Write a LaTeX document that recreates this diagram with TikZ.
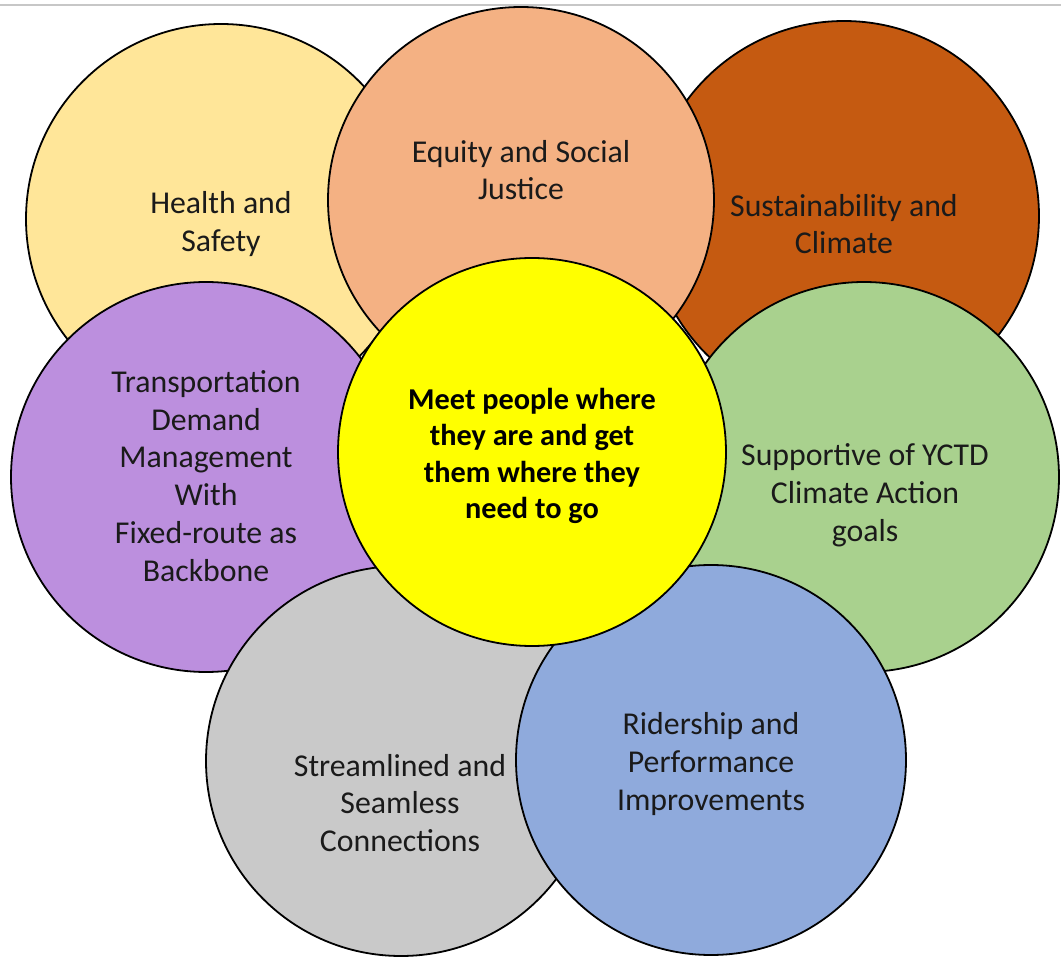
\documentclass[tikz,border=0pt]{standalone}
\usepackage{fontspec}
\setmainfont{Carlito}
\definecolor{chealth}{HTML}{FFE699}
\definecolor{cequity}{HTML}{F4B183}
\definecolor{csust}{HTML}{C55A11}
\definecolor{cpurple}{HTML}{BC8FDE}
\definecolor{cgreen}{HTML}{A9D18E}
\definecolor{cgray}{HTML}{C9C9C9}
\definecolor{cblue}{HTML}{8FAADC}
\definecolor{ccenter}{HTML}{FFFF00}
\definecolor{ctext}{HTML}{1A1A1A}
\begin{document}
\begin{tikzpicture}[x=1pt,y=-1pt,
  bubble/.style={circle,draw=black,line width=1.8pt,minimum size=390pt,inner sep=0pt},
  label/.style={align=center,text=ctext,font=\fontsize{31.8}{37.8}\selectfont},
  clabel/.style={align=center,text=black,font=\fontsize{30.3}{36.6}\selectfont\bfseries}]
\useasboundingbox (0,0) rectangle (1061,957);
\fill[white] (0,0) rectangle (1061,957);
\draw[color=black!22,line width=1.5pt] (0,5) -- (1061,5);
\node[bubble,fill=chealth] (health) at (221,219) {};
\node[bubble,fill=csust] (sust) at (844,216) {};
\node[bubble,fill=cequity,minimum size=386pt] (equity) at (521,200) {};
\node[bubble,fill=cpurple] (tdm) at (206,477) {};
\node[bubble,fill=cgreen] (green) at (864,477) {};
\node[bubble,fill=cgray] (gray) at (401,761) {};
\node[bubble,fill=cblue] (blue) at (711,760) {};
\node[bubble,fill=ccenter,minimum size=388pt] (center) at (532,452) {};
\node[label] (thealth) at (221,224) {Health and\\Safety};
\node[label] (tequity) at (521,170) {Equity and Social\\Justice};
\node[label] (tsust) at (844,224) {Sustainability and\\Climate};
\node[label] (ttdm) at (206,476) {Transportation\\Demand\\Management\\With\\Fixed-route as\\Backbone};
\node[label] (tgreen) at (865,495) {Supportive of YCTD\\Climate Action\\goals};
\node[label] (tgray) at (400,803) {Streamlined and\\Seamless\\Connections};
\node[label] (tblue) at (711,764) {Ridership and\\Performance\\Improvements};
\node[clabel] (tcenter) at (532,456) {Meet people where\\they are and get\\them where they\\need to go};
\end{tikzpicture}
\end{document}
